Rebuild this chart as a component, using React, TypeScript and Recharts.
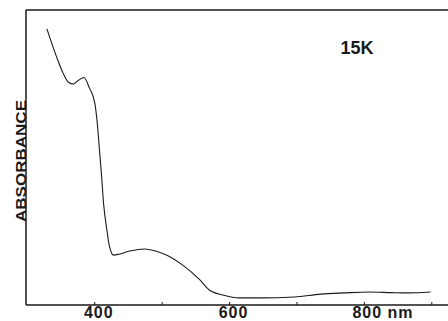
import { LineChart, Line, XAxis, YAxis, ReferenceLine } from 'recharts';

// wavelength (nm) and absorbance (arbitrary units, 0..1 of the frame)
const wavelengths = [329, 344, 353, 361, 368, 376, 384, 392, 400, 404, 407, 410, 413, 418, 422, 428, 437, 452, 474, 490, 507, 530, 556, 570, 590, 615, 646, 696, 735, 770, 809, 840, 864, 898];
const absorbance = [0.936, 0.837, 0.786, 0.755, 0.749, 0.762, 0.771, 0.736, 0.685, 0.61, 0.525, 0.441, 0.346, 0.254, 0.197, 0.169, 0.173, 0.183, 0.19, 0.183, 0.169, 0.136, 0.085, 0.051, 0.034, 0.024, 0.024, 0.027, 0.037, 0.041, 0.044, 0.042, 0.041, 0.044];
const xTicks = [400, 500, 600, 700, 800, 900];
const xLabels: Record<number, string> = { 400: '400', 600: '600', 800: '800 nm' };

const WIDTH = 448;
const HEIGHT = 321;
const INK = '#1a1a1a';
const FONT = '"Liberation Sans", Arial, sans-serif';
const X_MIN = 298;

const data = wavelengths.map((nm, i) => ({ nm, a: absorbance[i] }));

function XTick({ x, y, payload }: any) {
    const label = xLabels[payload.value];
    return (
        <g>
            <line x1={x} y1={y} x2={x} y2={y - 3} stroke={INK} strokeWidth={1} />
            {label && (
                <text
                    x={payload.value === 800 ? x - 12 : x + 4}
                    y={y + 12.5}
                    textAnchor={payload.value === 800 ? 'start' : 'middle'}
                    fill={INK}
                    fontFamily={FONT}
                    fontWeight="bold"
                    fontSize={16}
                    letterSpacing={1}
                >
                    {label}
                </text>
            )}
        </g>
    );
}

export default function App() {
    return (
        <div style={{ position: 'fixed', left: 0, top: 0, background: '#fff' }}>
            <LineChart width={WIDTH} height={HEIGHT} data={data} margin={{ top: 10, right: 0, bottom: 0, left: 26 }}>
                <XAxis
                    dataKey="nm"
                    type="number"
                    domain={[X_MIN, 924]}
                    ticks={xTicks}
                    tickLine={false}
                    tickSize={0}
                    tickMargin={0}
                    height={16}
                    axisLine={{ stroke: INK, strokeWidth: 1.5 }}
                    tick={<XTick />}
                    interval={0}
                />
                <YAxis type="number" domain={[0, 1]} width={0} tick={false} tickLine={false} axisLine={false} />
                <ReferenceLine y={1} stroke={INK} strokeWidth={1.5} />
                <ReferenceLine x={X_MIN} stroke={INK} strokeWidth={1.5} />
                <Line
                    dataKey="a"
                    type="monotone"
                    stroke={INK}
                    strokeWidth={1.1}
                    dot={false}
                    isAnimationActive={false}
                />
                <text
                    x={20}
                    y={161}
                    transform="rotate(-90 20 161)"
                    textAnchor="middle"
                    dominantBaseline="central"
                    fill={INK}
                    fontFamily={FONT}
                    fontWeight="bold"
                    fontSize={15}
                    textLength={122}
                    lengthAdjust="spacingAndGlyphs"
                >
                    ABSORBANCE
                </text>
                <text x={357} y={54} textAnchor="middle" fill={INK} fontFamily={FONT} fontWeight="bold" fontSize={18}>
                    15K
                </text>
            </LineChart>
        </div>
    );
}
